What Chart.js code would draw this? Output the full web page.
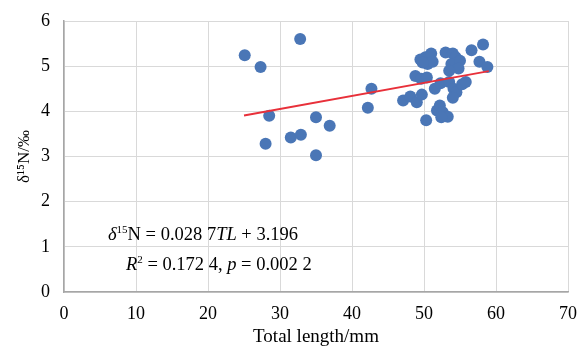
<!DOCTYPE html>
<html>
<head>
<meta charset="utf-8">
<script src="https://cdn.jsdelivr.net/npm/chart.js@4.4.1/dist/chart.umd.min.js"></script>
<style>
  html, body { margin: 0; padding: 0; background: #fff; }
  #wrap { width: 578px; height: 354px; }
</style>
</head>
<body>
<div id="wrap"><canvas id="chart" width="578" height="354"></canvas></div>
<script>
// data: total length (mm) vs delta 15N (permil)
const lengths = [
  25.1, 27.3, 32.8, 28.5, 28.0, 31.5, 32.9, 35.0, 36.9, 35.0, 42.7, 42.2,
  47.1, 48.1, 49.0, 49.7, 50.3, 51.8, 52.2, 52.6, 53.3, 52.4,
  48.8, 49.6, 50.4, 51.5, 52.3, 53.5, 54.1, 54.5, 55.3, 55.8, 54.0,
  49.5, 50.2, 51.0, 50.5, 51.2, 49.8,
  53.0, 54.0, 54.4, 53.8, 55.0, 54.8, 53.5,
  56.6, 58.2, 57.7, 58.8
];
const d15N = [
  5.24, 4.98, 5.60, 3.90, 3.28, 3.42, 3.48, 3.87, 3.68, 3.03, 4.50, 4.08,
  4.24, 4.33, 4.20, 4.37, 3.80, 4.02, 4.13, 3.98, 3.88, 3.87,
  4.78, 4.72, 4.75, 4.50, 4.62, 4.65, 4.50, 4.42, 4.60, 4.65, 4.30,
  5.15, 5.20, 5.28, 5.05, 5.10, 5.08,
  5.30, 5.28, 5.20, 5.05, 5.12, 4.95, 4.90,
  5.35, 5.48, 5.10, 4.98
];
// fitted line end points as drawn
const trendX = [25, 59];
const trendY = [3.91, 4.89];

const xTicks = [0, 10, 20, 30, 40, 50, 60, 70];
const yTicks = [0, 1, 2, 3, 4, 5, 6];

const serif = '"Liberation Serif", "Times New Roman", serif';

// equation text, drawn as runs: [text, italic, superscript]
const eqLine1 = [['δ', true, false], ['15', false, true], ['N = 0.028 7', false, false], ['TL', true, false], [' + 3.196', false, false]];
const eqLine2 = [['R', true, false], ['2', false, true], [' = 0.172 4, ', false, false], ['p', true, false], [' = 0.002 2', false, false]];

function drawRuns(ctx, runs, x, y) {
  runs.forEach(r => {
    const size = r[2] ? 11 : 18.5;
    ctx.font = (r[1] ? 'italic ' : '') + size + 'px ' + serif;
    ctx.fillText(r[0], x, r[2] ? y - 7 : y);
    x += ctx.measureText(r[0]).width;
  });
}

const equationPlugin = {
  id: 'equation',
  afterDraw(chart) {
    const ctx = chart.ctx;
    ctx.save();
    ctx.fillStyle = '#000';
    ctx.textBaseline = 'alphabetic';
    drawRuns(ctx, eqLine1, 108, 240);
    drawRuns(ctx, eqLine2, 126, 270);
    ctx.restore();
  }
};

const points = lengths.map((v, i) => ({ x: v, y: d15N[i] }));
const trend = trendX.map((v, i) => ({ x: v, y: trendY[i] }));

new Chart(document.getElementById('chart'), {
  type: 'scatter',
  data: {
    datasets: [
      {
        type: 'line',
        data: trend,
        borderColor: '#e8303a',
        borderWidth: 2,
        pointRadius: 0,
        fill: false,
        order: 0
      },
      {
        data: points,
        backgroundColor: '#4a76b6',
        borderWidth: 0,
        pointRadius: 6,
        order: 1
      }
    ]
  },
  plugins: [equationPlugin],
  options: {
    responsive: false,
    animation: false,
    layout: { padding: { top: 21, right: 10, left: 6, bottom: 2 } },
    plugins: { legend: { display: false }, tooltip: { enabled: false } },
    scales: {
      x: {
        type: 'linear',
        min: 0, max: 70,
        afterBuildTicks: s => { s.ticks = xTicks.map(v => ({ value: v })); },
        afterFit: s => { s.height = 60; s.paddingLeft = 0; s.paddingRight = 0; },
        grid: { color: '#d9d9d9', lineWidth: 1, drawTicks: false },
        border: { color: '#a6a6a6', width: 1.5 },
        ticks: { color: '#000', font: { family: serif, size: 18 }, padding: 11 },
        title: { display: true, text: 'Total length/mm', color: '#000', font: { family: serif, size: 19 }, padding: { top: 2 } }
      },
      y: {
        min: 0, max: 6,
        afterBuildTicks: s => { s.ticks = yTicks.map(v => ({ value: v })); },
        afterFit: s => { s.width = 58; s.paddingTop = 0; s.paddingBottom = 0; },
        grid: { color: '#d9d9d9', lineWidth: 1, drawTicks: false },
        border: { color: '#a6a6a6', width: 1.5 },
        ticks: { color: '#000', font: { family: serif, size: 18 }, padding: 14 },
        title: { display: true, text: 'δ¹⁵N/‰', color: '#000', font: { family: serif, size: 17 }, padding: { top: 8, bottom: 0 } }
      }
    }
  }
});
</script>
</body>
</html>
